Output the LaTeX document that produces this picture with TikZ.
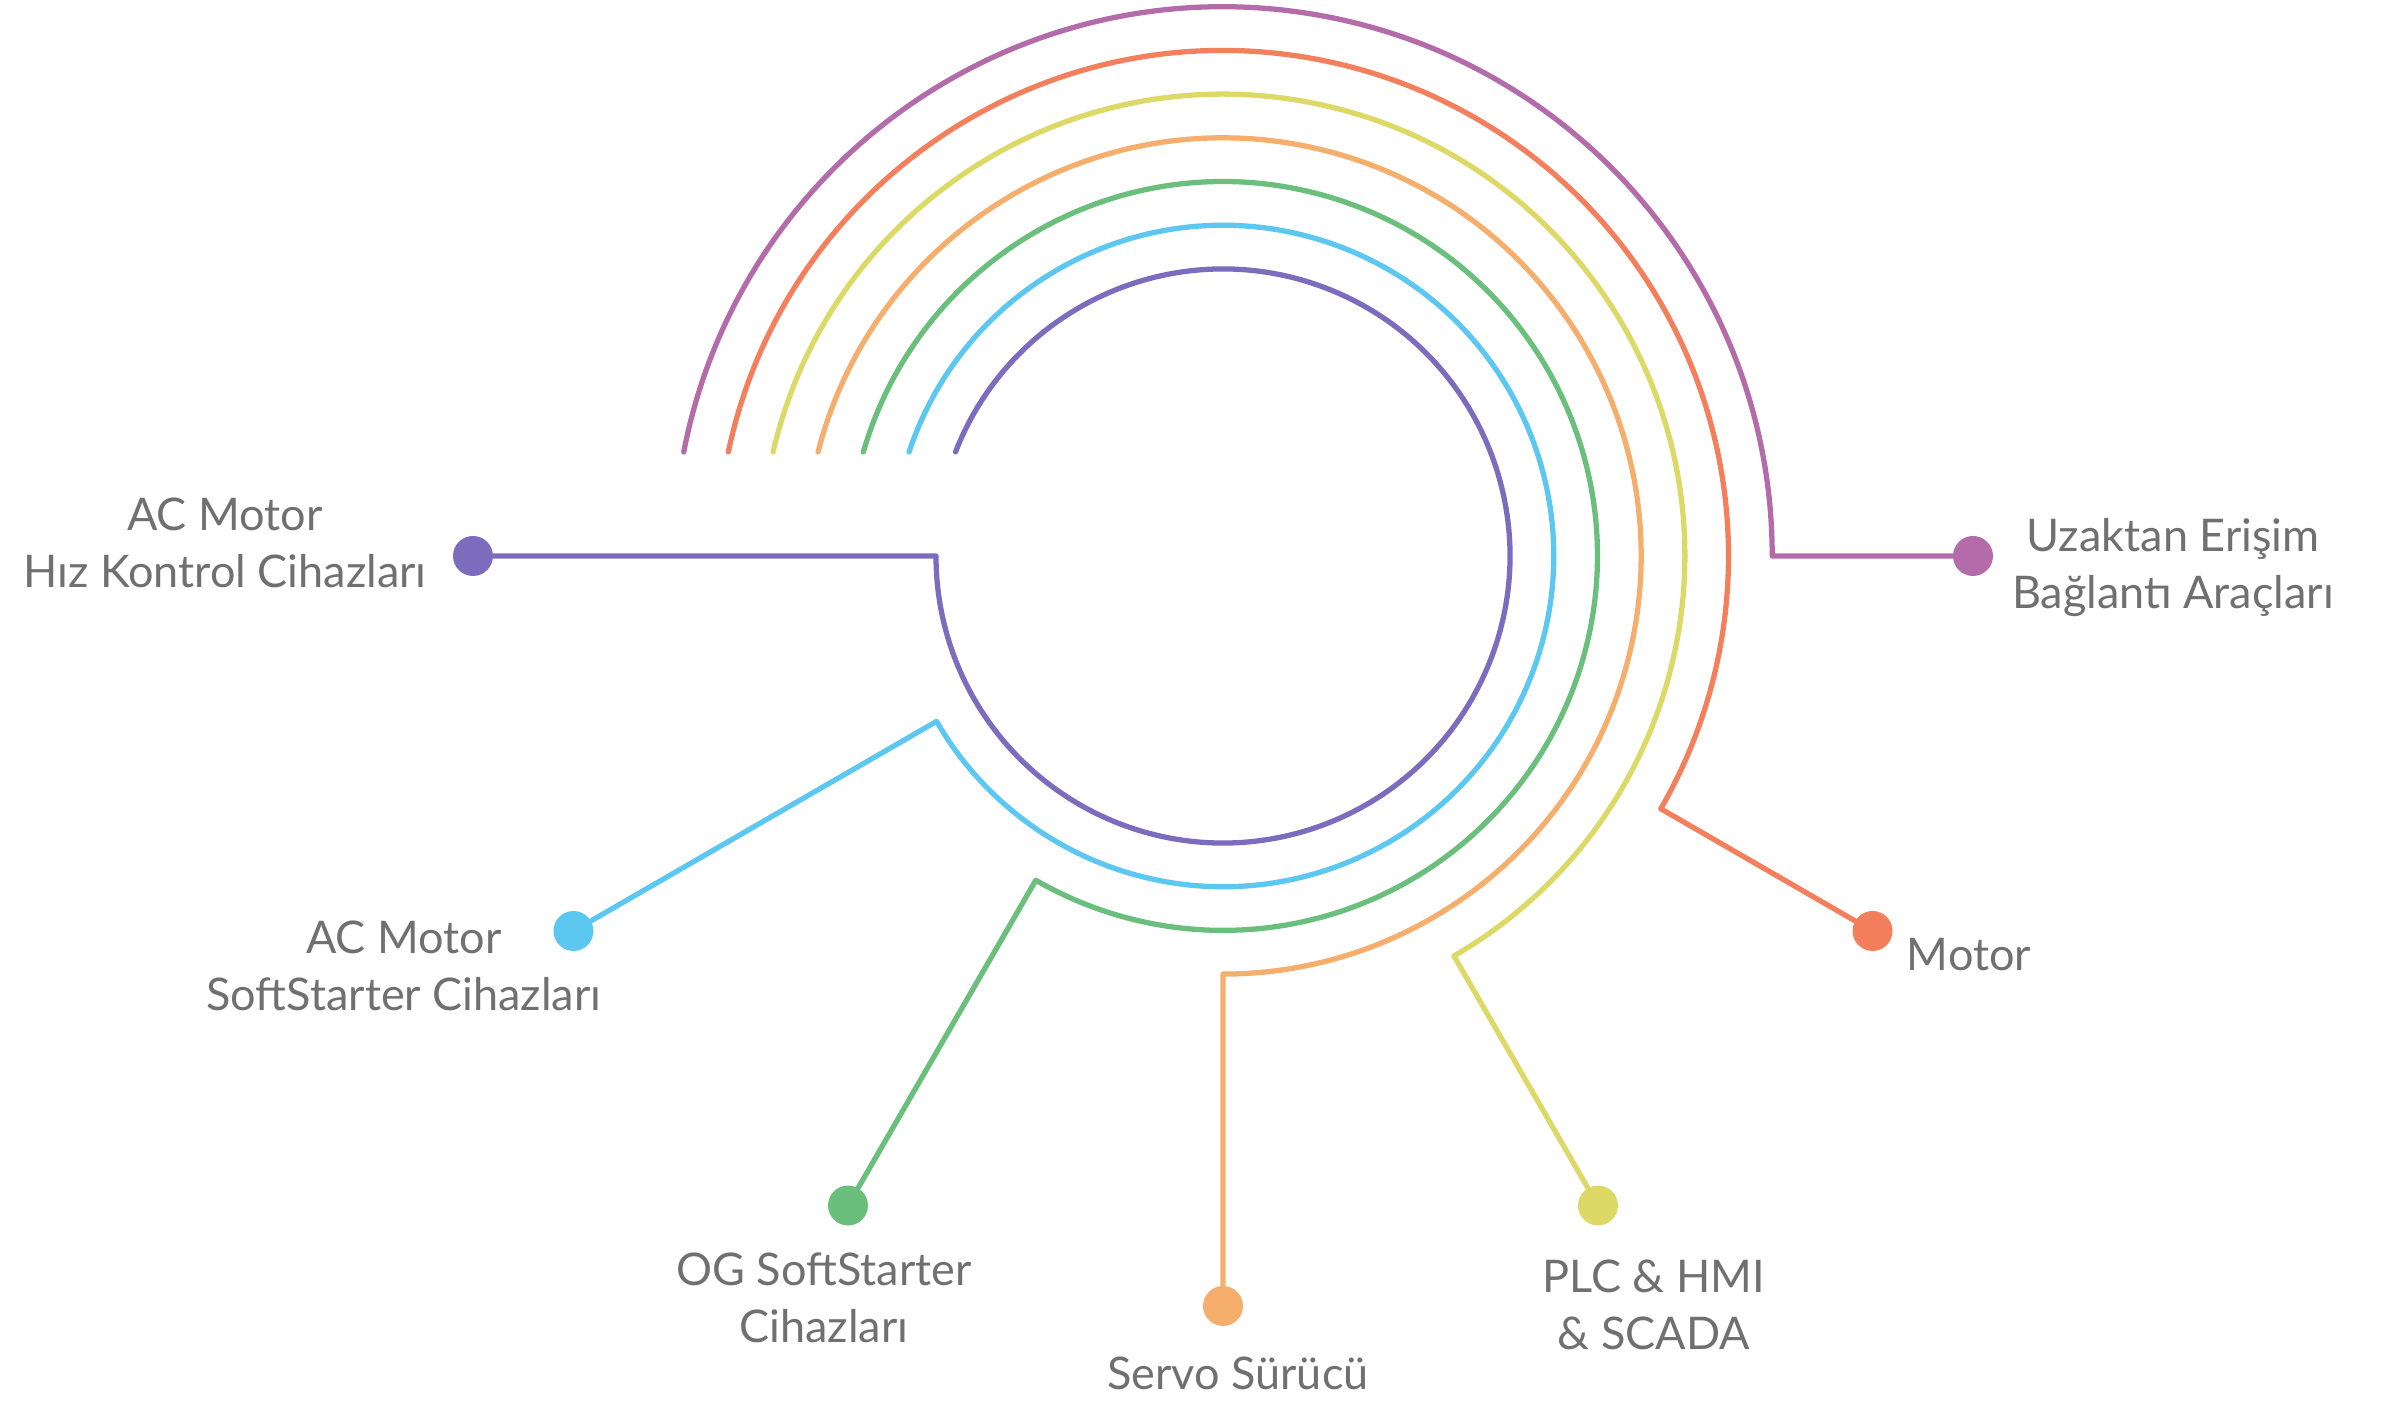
\documentclass[tikz,border=0pt]{standalone}
\usepackage{fontspec}
\setmainfont{Lato}
\usepackage{tikz}

\definecolor{ringPurple}{HTML}{7C6CBD}
\definecolor{ringBlue}{HTML}{5CC8F2}
\definecolor{ringGreen}{HTML}{6BBF7C}
\definecolor{ringOrange}{HTML}{F6AE6C}
\definecolor{ringYellow}{HTML}{DCD966}
\definecolor{ringRed}{HTML}{F47F5D}
\definecolor{ringMagenta}{HTML}{B36CA9}
\definecolor{textGray}{HTML}{707070}

\begin{document}
\begin{tikzpicture}[
    ring/.style={line width=1.5pt, line cap=round, line join=round},
    dot/.style={circle, inner sep=0pt, minimum size=0.4cm},
    itemtext/.style={text=textGray, align=center, inner sep=0pt,
        font=\fontsize{12.8}{16.2}\selectfont}
  ]
    % Fix the picture size
    \useasboundingbox (-12.23,-8.45) rectangle (11.59,5.56);

    % Draw the end dots
    \node[dot, fill=ringPurple] (dotHiz) at (180:7.5) {};
    \node[dot, fill=ringBlue] (dotSoft) at (-150:7.5) {};
    \node[dot, fill=ringGreen] (dotOG) at (-120:7.5) {};
    \node[dot, fill=ringOrange] (dotServo) at (-90:7.5) {};
    \node[dot, fill=ringYellow] (dotPLC) at (-60:7.5) {};
    \node[dot, fill=ringRed] (dotMotor) at (-30:7.5) {};
    \node[dot, fill=ringMagenta] (dotUzak) at (0:7.5) {};

    % Start points of the rings
    \coordinate (sHiz) at ({180-asin(1.04/2.87)}:2.87);
    \coordinate (sSoft) at ({180-asin(1.04/3.307)}:3.307);
    \coordinate (sOG) at ({180-asin(1.04/3.744)}:3.744);
    \coordinate (sServo) at ({180-asin(1.04/4.181)}:4.181);
    \coordinate (sPLC) at ({180-asin(1.04/4.618)}:4.618);
    \coordinate (sMotor) at ({180-asin(1.04/5.055)}:5.055);
    \coordinate (sUzak) at ({180-asin(1.04/5.492)}:5.492);

    % Draw the rings and their legs
    \draw[ring, ringPurple] (sHiz) arc[start angle={180-asin(1.04/2.87)}, end angle=-180, radius=2.87] -- (dotHiz);
    \draw[ring, ringBlue] (sSoft) arc[start angle={180-asin(1.04/3.307)}, end angle=-150, radius=3.307] -- (dotSoft);
    \draw[ring, ringGreen] (sOG) arc[start angle={180-asin(1.04/3.744)}, end angle=-120, radius=3.744] -- (dotOG);
    \draw[ring, ringOrange] (sServo) arc[start angle={180-asin(1.04/4.181)}, end angle=-90, radius=4.181] -- (dotServo);
    \draw[ring, ringYellow] (sPLC) arc[start angle={180-asin(1.04/4.618)}, end angle=-60, radius=4.618] -- (dotPLC);
    \draw[ring, ringRed] (sMotor) arc[start angle={180-asin(1.04/5.055)}, end angle=-30, radius=5.055] -- (dotMotor);
    \draw[ring, ringMagenta] (sUzak) arc[start angle={180-asin(1.04/5.492)}, end angle=0, radius=5.492] -- (dotUzak);

    % Add the labels
    \node[itemtext] (txtHiz) at (-9.98,0.13) {AC Motor\\Hız Kontrol Cihazları};
    \node[itemtext] (txtSoft) at (-8.19,-4.10) {AC Motor\\SoftStarter Cihazları};
    \node[itemtext] (txtOG) at (-3.99,-7.42) {OG SoftStarter\\Cihazları};
    \node[itemtext] (txtServo) at (0.15,-8.17) {Servo Sürücü};
    \node[itemtext] (txtPLC) at (4.31,-7.49) {PLC \& HMI\\\& SCADA};
    \node[itemtext] (txtMotor) at (7.46,-3.99) {Motor};
    \node[itemtext] (txtUzak) at (9.50,-0.12) {Uzaktan Erişim\\Bağlantı Araçları};
\end{tikzpicture}
\end{document}
